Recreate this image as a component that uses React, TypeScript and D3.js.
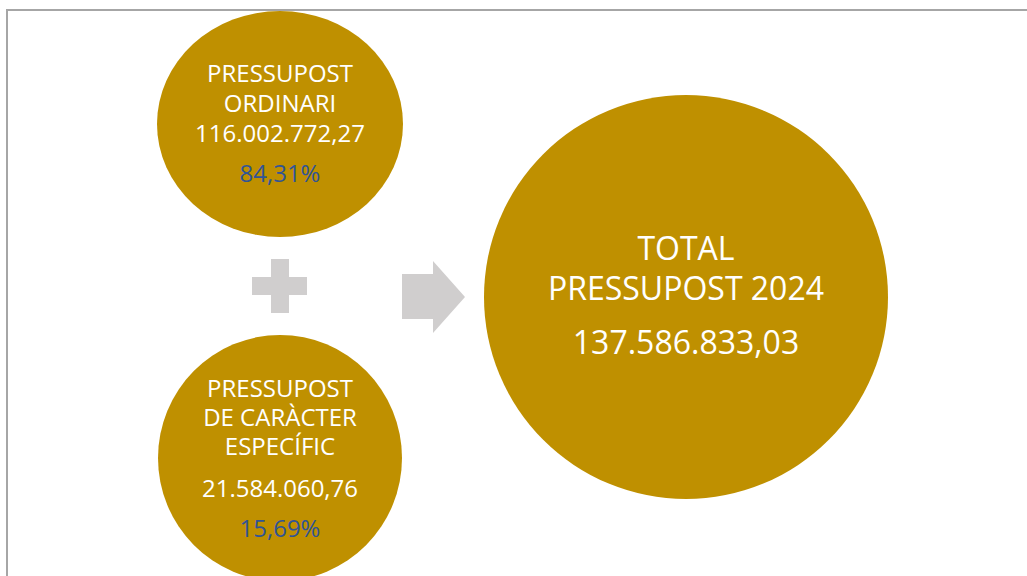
import React from 'react';
import * as d3 from 'd3';

// Budget parts
const partLabels = [['PRESSUPOST', 'ORDINARI'], ['PRESSUPOST', 'DE CARÀCTER', 'ESPECÍFIC']];
const partValues = [116002772.27, 21584060.76];
const partShares = [84.31, 15.69];
const totalLabel = ['TOTAL', 'PRESSUPOST 2024'];
const totalValue = 137586833.03;

const GOLD = '#bf9000';
const GREY = '#d0cece';
const BLUE = '#305496';
const FONT = '"Open Sans", "Noto Sans", sans-serif';

const locale = d3.formatLocale({ decimal: ',', thousands: '.', grouping: [3], currency: ['', '€'] });
const fmtNum = locale.format(',.2f');
const fmtPct = (v: number) => locale.format('.2f')(v) + '%';

export default function App() {
  // layout of the two part circles
  const parts = [
    { cx: 280, cy: 124, rx: 123, ry: 113, lineY: [82, 112], valueY: 142, pctY: 182 },
    { cx: 280, cy: 458, rx: 122, ry: 123, lineY: [397, 426, 455], valueY: 497, pctY: 537 },
  ];

  const arrow = d3.path();
  arrow.moveTo(402, 274);
  arrow.lineTo(433, 274);
  arrow.lineTo(433, 261);
  arrow.lineTo(465, 297);
  arrow.lineTo(433, 333);
  arrow.lineTo(433, 319);
  arrow.lineTo(402, 319);
  arrow.closePath();

  return (
    <svg width={1027} height={576} style={{ position: 'absolute', left: 0, top: 0, background: '#fff' }}>
      <rect x={7} y={10} width={1040} height={600} fill="#fff" stroke="#a6a6a6" strokeWidth={2} />

      {parts.map((p, i) => (
        <g key={i}>
          <ellipse cx={p.cx} cy={p.cy} rx={p.rx} ry={p.ry} fill={GOLD} />
          {partLabels[i].map((t, j) => (
            <text key={j} x={p.cx} y={p.lineY[j]} textAnchor="middle" fill="#fff" fontFamily={FONT} fontSize={24}>
              {t}
            </text>
          ))}
          <text x={p.cx} y={p.valueY} textAnchor="middle" fill="#fff" fontFamily={FONT} fontSize={24}>
            {fmtNum(partValues[i])}
          </text>
          <text x={p.cx} y={p.pctY} textAnchor="middle" fill={BLUE} fontFamily={FONT} fontSize={24}>
            {fmtPct(partShares[i])}
          </text>
        </g>
      ))}

      {/* plus sign */}
      <rect x={252} y={277} width={55} height={18} fill={GREY} />
      <rect x={271} y={259} width={18} height={54} fill={GREY} />

      {/* arrow */}
      <path d={arrow.toString()} fill={GREY} />

      <circle cx={686} cy={297} r={202} fill={GOLD} />
      {totalLabel.map((t, j) => (
        <text key={j} x={686} y={260 + j * 40} textAnchor="middle" fill="#fff" fontFamily={FONT} fontSize={32}>
          {t}
        </text>
      ))}
      <text x={686} y={354} textAnchor="middle" fill="#fff" fontFamily={FONT} fontSize={32}>
        {fmtNum(totalValue)}
      </text>
    </svg>
  );
}
